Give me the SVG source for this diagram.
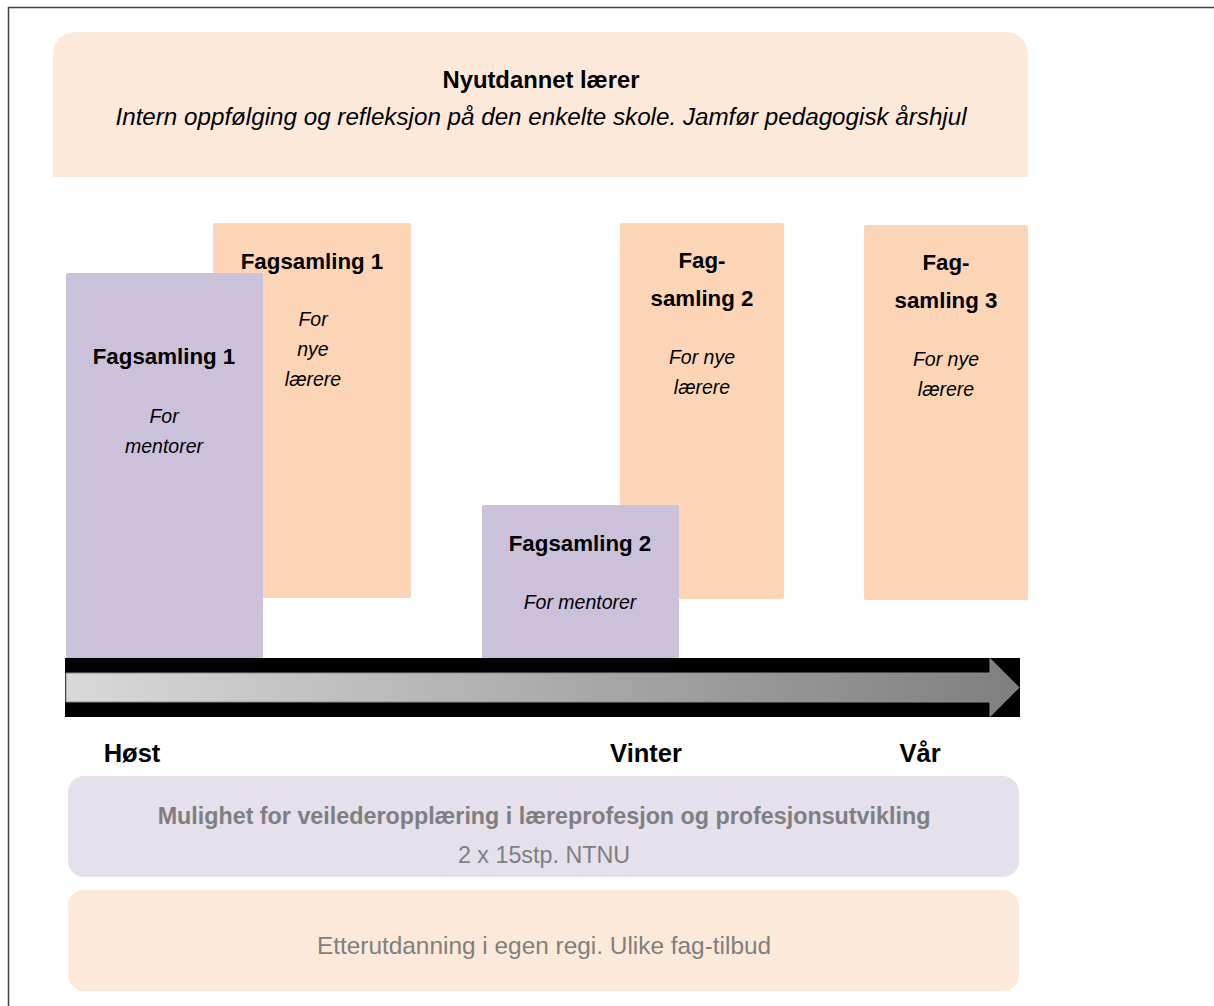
<svg xmlns="http://www.w3.org/2000/svg" width="1214" height="1006" viewBox="0 0 1214 1006">
<style>
text{font-family:"Liberation Sans",Arial,sans-serif;text-anchor:middle;fill:#000}
.b{font-weight:bold;font-size:22.3px}
.i{font-style:italic;font-size:19.5px}
.t{font-weight:bold;font-size:25.5px}
.g{fill:#7f7f7f}
.or{fill:#fbd5b5}
.pu{fill:#ccc1da}
</style>
<defs>
<linearGradient id="ag" x1="0" y1="0" x2="1" y2="0">
<stop offset="0" stop-color="#d9d9d9"/>
<stop offset="1" stop-color="#7f7f7f"/>
</linearGradient>
</defs>
<rect x="0" y="0" width="1214" height="1006" fill="#fff"/>
<path d="M8.5 1006 V7.5 H1214" fill="none" stroke="#404040" stroke-width="1.5"/>

<g id="top">
<path d="M53 177 V57 Q53 32 78 32 H1003 Q1028 32 1028 57 V177 Z" fill="#fde9d9"/>
<text x="541" y="88" style="font-weight:bold;font-size:23.8px">Nyutdannet lærer</text>
<text x="541" y="125" style="font-style:italic;font-size:24.2px">Intern oppfølging og refleksjon på den enkelte skole. Jamfør pedagogisk årshjul</text>
</g>

<g id="fs1-nye">
<rect x="213" y="223" width="198" height="375" rx="2" class="or"/>
<text x="312" y="269" class="b">Fagsamling 1</text>
<text x="313" y="326" class="i">For</text>
<text x="313" y="356" class="i">nye</text>
<text x="313" y="386" class="i">lærere</text>
</g>

<g id="fs1-mentor">
<rect x="66" y="273" width="197" height="386" rx="2" class="pu"/>
<text x="164" y="364" class="b">Fagsamling 1</text>
<text x="164" y="423" class="i">For</text>
<text x="164" y="453" class="i">mentorer</text>
</g>

<g id="fs2-nye">
<rect x="620" y="223" width="164" height="376" rx="2" class="or"/>
<text x="702" y="268" class="b">Fag-</text>
<text x="702" y="306" class="b">samling 2</text>
<text x="702" y="364" class="i">For nye</text>
<text x="702" y="394" class="i">lærere</text>
</g>

<g id="fs3-nye">
<rect x="864" y="225" width="164" height="375" rx="2" class="or"/>
<text x="946" y="270" class="b">Fag-</text>
<text x="946" y="308" class="b">samling 3</text>
<text x="946" y="366" class="i">For nye</text>
<text x="946" y="396" class="i">lærere</text>
</g>

<g id="fs2-mentor">
<rect x="482" y="505" width="197" height="154" rx="2" class="pu"/>
<text x="580" y="551" class="b">Fagsamling 2</text>
<text x="580" y="609" class="i">For mentorer</text>
</g>

<g id="timeline">
<rect x="65" y="658" width="955" height="59" fill="#000"/>
<path d="M66 673 H990 V658.5 L1019 687.5 L990 716.5 V702 H66 Z" fill="url(#ag)" stroke="#8c8c8c" stroke-width="1"/>
<text x="132" y="762" class="t">Høst</text>
<text x="646" y="762" class="t">Vinter</text>
<text x="920" y="762" class="t">Vår</text>
</g>

<g id="veileder">
<rect x="68" y="776" width="951" height="101" rx="16" fill="#e5e0ec"/>
<text x="544" y="824" class="g" style="font-weight:bold;font-size:23.3px">Mulighet for veilederopplæring i læreprofesjon og profesjonsutvikling</text>
<text x="544" y="863" class="g" style="font-size:23.3px">2 x 15stp. NTNU</text>
</g>

<g id="etterutdanning">
<rect x="68" y="890" width="951" height="101" rx="16" fill="#fde9d9"/>
<text x="544" y="954" class="g" style="font-size:24.4px">Etterutdanning i egen regi. Ulike fag-tilbud</text>
</g>
</svg>
